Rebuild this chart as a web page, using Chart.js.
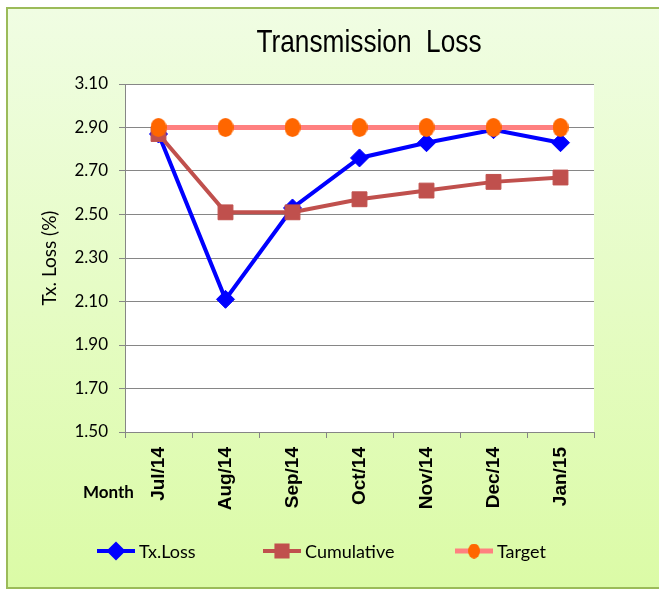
<!DOCTYPE html>
<html>
<head>
<meta charset="utf-8">
<script src="https://cdn.jsdelivr.net/npm/chart.js@4.4.1/dist/chart.umd.min.js"></script>
<style>
  html, body { margin: 0; padding: 0; background: #fff; }
  #wrap { position: relative; width: 659px; height: 590px; }
  #legend { position: absolute; left: 0; top: 538px; width: 659px; height: 26px;
            font-family: Lato, sans-serif; font-size: 18px; color: #000; }
  .item { position: absolute; top: 0; height: 26px; display: flex; align-items: center; white-space: nowrap; }
  .item canvas { margin-right: 3px; }
</style>
</head>
<body>
<div id="wrap">
  <canvas id="lossChart" width="659" height="590"></canvas>
  <div id="legend"></div>
</div>
<script>
const months = ["Jul/14", "Aug/14", "Sep/14", "Oct/14", "Nov/14", "Dec/14", "Jan/15"];
const txLoss = [2.87, 2.11, 2.53, 2.76, 2.83, 2.89, 2.83];
const cumulative = [2.87, 2.51, 2.51, 2.57, 2.61, 2.65, 2.67];
const target = [2.90, 2.90, 2.90, 2.90, 2.90, 2.90, 2.90];
const yMin = 1.50, yMax = 3.10, yStep = 0.20;
const seriesNames = ["Tx.Loss", "Cumulative", "Target"];

const gridGrey = "#868686";

// orange ellipse marker for the target series
function ellipseMarker(w, h, color) {
    const c = document.createElement("canvas");
    c.width = w; c.height = h;
    const g = c.getContext("2d");
    g.fillStyle = color;
    g.beginPath();
    g.ellipse(w / 2, h / 2, w / 2, h / 2, 0, 0, Math.PI * 2);
    g.fill();
    return c;
}
const targetDot = ellipseMarker(16, 19, "#ff6600");

const frame = {
    id: "frame",
    beforeDraw(chart) {
        const ctx = chart.ctx;
        const a = chart.chartArea;
        ctx.save();
        const g = ctx.createLinearGradient(0, 8, 0, 588);
        g.addColorStop(0, "#f0fde3");
        g.addColorStop(1, "#dbfba6");
        ctx.fillStyle = g;
        ctx.fillRect(7, 8, 660, 580);
        ctx.strokeStyle = "#9bbb59";
        ctx.lineWidth = 2;
        ctx.strokeRect(7, 8, 660, 580);
        ctx.fillStyle = "#ffffff";
        ctx.fillRect(a.left, a.top, a.right - a.left, a.bottom - a.top);

        ctx.fillStyle = "#000";
        ctx.textBaseline = "middle";
        ctx.font = "bold 17px Lato, sans-serif";
        ctx.textAlign = "left";
        ctx.fillText("Month", 83, 493);
        // narrow title: Liberation Sans squeezed sideways
        ctx.translate(369, 43);
        ctx.scale(0.82, 1);
        ctx.textAlign = "center";
        ctx.font = "32px 'Liberation Sans', sans-serif";
        ctx.fillText("Transmission  Loss", 0, 0);
        ctx.restore();
    }
};

const ctx = document.getElementById("lossChart").getContext("2d");
const chart = new Chart(ctx, {
    type: "line",
    data: {
        labels: months,
        datasets: [{
            label: seriesNames[0],
            data: txLoss,
            borderColor: "#0000ff",
            backgroundColor: "#0000ff",
            borderWidth: 4,
            pointStyle: "rectRot",
            pointRadius: 9,
            pointBorderWidth: 1,
            order: 3
        }, {
            label: seriesNames[1],
            data: cumulative,
            borderColor: "#c0504d",
            backgroundColor: "#c0504d",
            borderWidth: 4,
            pointStyle: "rect",
            pointRadius: 10.5,
            pointBorderWidth: 1,
            order: 2
        }, {
            label: seriesNames[2],
            data: target,
            borderColor: "#ff8080",
            backgroundColor: "#ff6600",
            borderWidth: 5,
            pointStyle: targetDot,
            pointRadius: 9,
            order: 1
        }]
    },
    options: {
        responsive: false,
        animation: false,
        layout: { padding: { left: 8, right: 65, top: 84, bottom: 78 } },
        plugins: {
            legend: { display: false },
            title: { display: false },
            tooltip: { enabled: false }
        },
        scales: {
            x: {
                offset: true,
                grid: { display: true, offset: true, drawOnChartArea: false, drawTicks: true, tickLength: 6, color: gridGrey },
                border: { color: gridGrey },
                ticks: {
                    autoSkip: false, minRotation: 90, maxRotation: 90, padding: 9,
                    color: "#000", font: { family: "'Liberation Sans', sans-serif", size: 19, weight: "bold" }
                },
                afterFit(scale) { scale.height = 80; }
            },
            y: {
                min: yMin,
                max: yMax,
                ticks: {
                    stepSize: yStep, padding: 11, color: "#000",
                    font: { family: "Lato, sans-serif", size: 17 },
                    callback: v => v.toFixed(2)
                },
                grid: { color: gridGrey, tickLength: 6 },
                border: { color: gridGrey },
                title: {
                    display: true, text: "Tx. Loss (%)", color: "#000",
                    font: { family: "Lato, sans-serif", size: 19 },
                    padding: { top: 30, bottom: 0 }
                },
                afterFit(scale) { scale.width = 117; }
            }
        }
    },
    plugins: [frame]
});

// legend: line sample with the series marker, then the name
function drawSample(ds) {
    const c = document.createElement("canvas");
    c.width = 40; c.height = 22;
    const g = c.getContext("2d");
    g.strokeStyle = ds.borderColor;
    g.lineWidth = ds.borderWidth;
    g.beginPath();
    g.moveTo(1, 11); g.lineTo(39, 11);
    g.stroke();
    if (ds.pointStyle instanceof HTMLCanvasElement) {
        g.drawImage(ds.pointStyle, 20 - 6, 11 - 7.5, 12, 15);
    } else {
        Chart.helpers.drawPoint(g, {
            pointStyle: ds.pointStyle, radius: ds.pointRadius * 0.75, borderWidth: 1
        }, 20, 11);
        g.fillStyle = ds.backgroundColor;
        g.fill();
    }
    return c;
}
const legendX = [96, 262, 454];
const legend = document.getElementById("legend");
chart.data.datasets.forEach((ds, i) => {
    const item = document.createElement("div");
    item.className = "item";
    item.style.left = legendX[i] + "px";
    item.appendChild(drawSample(ds));
    const span = document.createElement("span");
    span.textContent = ds.label;
    item.appendChild(span);
    legend.appendChild(item);
});
</script>
</body>
</html>
